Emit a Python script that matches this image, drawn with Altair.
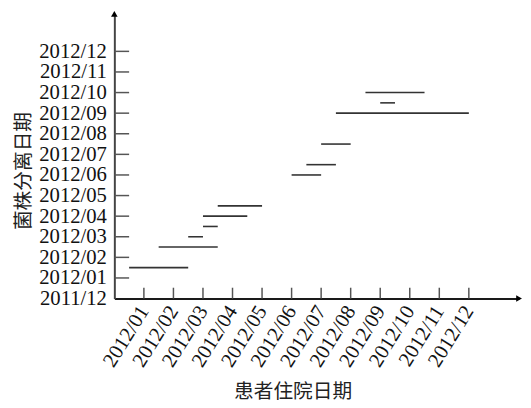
import altair as alt
import pandas as pd

# month index: 0 = 2011/12, 1 = 2012/01, ... 12 = 2012/12
x_labels = ["2011/12", "2012/01", "2012/02", "2012/03", "2012/04", "2012/05", "2012/06",
            "2012/07", "2012/08", "2012/09", "2012/10", "2012/11", "2012/12"]
y_labels = ["2011/12", "2012/01", "2012/02", "2012/03", "2012/04", "2012/05", "2012/06",
            "2012/07", "2012/08", "2012/09", "2012/10", "2012/11", "2012/12"]

stay_start = [0.5, 1.5, 2.5, 3.0, 3.0, 3.5, 6.0, 6.5, 7.0, 7.5, 9.0, 8.5]
stay_end = [2.5, 3.5, 3.0, 3.5, 4.5, 5.0, 7.0, 7.5, 8.0, 12.0, 9.5, 10.5]
isolation = [1.5, 2.5, 3.0, 3.5, 4.0, 4.5, 6.0, 6.5, 7.5, 9.0, 9.5, 10.0]

x_ticks = list(range(1, 13))
y_ticks = list(range(1, 13))

W, H = 411, 288
XMAX = W / 30.0
YMAX = H / 20.92

seg = pd.DataFrame({"s": stay_start, "e": stay_end, "y": isolation})
xt = pd.DataFrame({"v": x_ticks})
yt = pd.DataFrame({"v": y_ticks})

def arr_expr(labels):
    return "[" + ",".join("'%s'" % l for l in labels) + "][datum.value]"

xscale = alt.Scale(domain=[0, XMAX], nice=False, zero=False)
yscale = alt.Scale(domain=[0, YMAX], nice=False, zero=False)

xaxis = alt.Axis(
    values=list(range(0, 13)), labelExpr="datum.value == 0 ? '' : " + arr_expr(x_labels),
    domainColor="#1a1a1a",
    labelAngle=302, labelAlign="right", labelBaseline="middle", labelPadding=9,
    title="患者住院日期", titleX=181, titleY=94, titleAngle=0,
)
yaxis = alt.Axis(
    values=list(range(0, 13)), labelExpr=arr_expr(y_labels),
    domainColor="#444",
    labelAlign="right", labelBaseline="middle", labelPadding=8,
    title="菌株分离日期", titleX=-92, titleY=158, titleAngle=270,
)

segments = alt.Chart(seg).mark_rule(color="#333", strokeWidth=1.6).encode(
    x=alt.X("s:Q", scale=xscale, axis=xaxis),
    x2="e:Q",
    y=alt.Y("y:Q", scale=yscale, axis=yaxis),
)

ytick_marks = alt.Chart(yt).mark_rule(color="#555", strokeWidth=1.5).encode(
    y=alt.Y("v:Q", scale=yscale, axis=yaxis),
    x=alt.value(0),
    x2=alt.value(15),
)
xtick_marks = alt.Chart(xt).mark_rule(color="#555", strokeWidth=1.5).encode(
    x=alt.X("v:Q", scale=xscale, axis=xaxis),
    y=alt.value(H),
    y2=alt.value(H - 11),
)

arrow_up = alt.Chart(pd.DataFrame({"a": [0]})).mark_point(
    shape="triangle-up", filled=True, color="#000", size=45, opacity=1
).encode(x=alt.value(0), y=alt.value(-1))
arrow_right = alt.Chart(pd.DataFrame({"a": [0]})).mark_point(
    shape="triangle-right", filled=True, color="#000", size=45, opacity=1
).encode(x=alt.value(W), y=alt.value(H))

chart = alt.layer(segments, ytick_marks, xtick_marks, arrow_up, arrow_right).properties(
    width=W, height=H,
    autosize=alt.AutoSizeParams(type="none"),
    padding={"left": 108, "top": 4, "right": 4, "bottom": 104},
).configure(background="white").configure_view(stroke=None).configure_axis(
    ticks=False, tickSize=0, grid=False, domain=True, domainWidth=2,
    labelFont="Liberation Serif", labelFontSize=21, labelColor="#111",
    labelOverlap=False, labelBound=False, labelFlush=False,
    titleFont="Noto Sans CJK SC", titleFontSize=20, titleFontWeight="normal",
    titleColor="#222", titleAlign="center", titleBaseline="middle",
)

chart.save("out.html", embed_options={"renderer": "svg", "actions": False})
